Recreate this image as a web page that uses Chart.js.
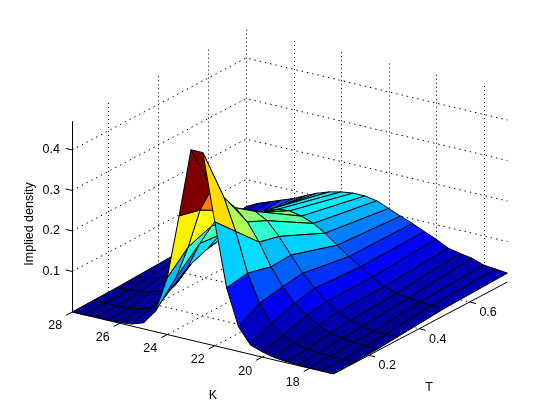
<!DOCTYPE html>
<html>
<head>
<meta charset="utf-8">
<title>Implied density</title>
<style>
    html, body { margin: 0; padding: 0; background: #fff; }
    canvas { display: block; }
</style>
<script src="https://cdn.jsdelivr.net/npm/chart.js@4"></script>
</head>
<body>
<canvas id="chart" width="560" height="420"></canvas>
<script>
const strikes = [17, 17.5, 18, 18.5, 19, 19.5, 20, 20.5, 21, 21.5, 22, 22.5, 23, 23.5, 24, 24.5, 25, 25.5, 26, 26.5, 27, 27.5, 28];
const maturities = [0.06, 0.143, 0.236, 0.315, 0.498, 0.75];

// density, one list per maturity, same order as strikes
const densityT1 = [0.001, 0.001, 0.001, 0.002, 0.003, 0.006, 0.013, 0.023, 0.061, 0.15, 0.306, 0.47, 0.47, 0.3, 0.14, 0.05, 0.015, 0.005, 0.002, 0.001, 0.001, 0, 0];
const densityT2 = [0.002, 0.002, 0.003, 0.004, 0.006, 0.014, 0.027, 0.049, 0.092, 0.159, 0.255, 0.333, 0.348, 0.287, 0.189, 0.108, 0.05, 0.02, 0.008, 0.003, 0.001, 0.001, 0.001];
const densityT3 = [0.004, 0.005, 0.006, 0.009, 0.0155, 0.028, 0.046, 0.068, 0.102, 0.144, 0.198, 0.241, 0.269, 0.255, 0.21, 0.16, 0.095, 0.045, 0.025, 0.012, 0.006, 0.003, 0.002];
const densityT4 = [0.008, 0.007, 0.008, 0.012, 0.02, 0.035, 0.053, 0.079, 0.109, 0.147, 0.186, 0.218, 0.234, 0.225, 0.2, 0.155, 0.115, 0.085, 0.055, 0.03, 0.015, 0.008, 0.004];
const densityT5 = [0.017, 0.018, 0.02, 0.022, 0.027, 0.037, 0.054, 0.072, 0.09, 0.111, 0.134, 0.151, 0.162, 0.168, 0.165, 0.155, 0.135, 0.11, 0.09, 0.06, 0.04, 0.02, 0.008];
const densityT6 = [0.022, 0.025, 0.028, 0.038, 0.043, 0.049, 0.064, 0.076, 0.089, 0.1, 0.112, 0.124, 0.129, 0.129, 0.125, 0.118, 0.108, 0.095, 0.081, 0.07, 0.059, 0.048, 0.033];
const density = [densityT1, densityT2, densityT3, densityT4, densityT5, densityT6];

const strikeTicks = [18, 20, 22, 24, 26, 28];
const maturityTicks = [0.2, 0.4, 0.6];
const densityTicks = [0.1, 0.2, 0.3, 0.4];

const kMin = 17, kMax = 28, tMin = 0.06, tMax = 0.75, zMax = 0.47;

// fixed MATLAB style view, orthographic
function project(k, t, z) {
    return {
        x: 333.5 - (k - kMin) * 23.75 + (t - tMin) * 252,
        y: 374 - (k - kMin) * 5.64 - (t - tMin) * 133.3 - z * 405
    };
}

// same as project but on a pixel column, keeps the vertical dotted lines crisp
function snapped(k, t, z) {
    const p = project(k, t, z);
    return { x: Math.round(p.x) + 0.5, y: p.y };
}

// jet(64) lookup
function jet(v) {
    const t = (Math.min(Math.floor(v / zMax * 64), 63) + 1) / 64;
    const c = n => Math.round(255 * Math.max(0, Math.min(1, n)));
    const r = c(Math.min(4 * t - 1.5, -4 * t + 4.5));
    const g = c(Math.min(4 * t - 0.5, -4 * t + 3.5));
    const b = c(Math.min(4 * t + 0.5, -4 * t + 2.5));
    return `rgb(${r},${g},${b})`;
}

function lineSet(points, dash) {
    return {
        data: points,
        showLine: true,
        borderColor: '#000',
        borderWidth: 1,
        borderDash: dash,
        pointRadius: 0,
        fill: false,
        clip: false
    };
}

// built back to front, reversed at the end since Chart.js paints index 0 last
const layers = [];
const flatDots = [1.4, 4];
const upDots = [1, 3];

densityTicks.forEach(z => {
    layers.push(lineSet([project(kMax, tMin, z), project(kMax, tMax, z), project(kMin, tMax, z)], flatDots));
});
maturityTicks.forEach(t => {
    layers.push(lineSet([snapped(kMax, t, zMax), snapped(kMax, t, 0)], upDots));
    layers.push(lineSet([project(kMax, t, 0), project(kMin, t, 0)], flatDots));
});
strikeTicks.forEach(k => {
    layers.push(lineSet([snapped(k, tMax, zMax), snapped(k, tMax, 0)], upDots));
    layers.push(lineSet([project(k, tMax, 0), project(k, tMin, 0)], flatDots));
});

// solid axes and tick marks
layers.push(lineSet([snapped(kMax, tMin, zMax), snapped(kMax, tMin, 0)], []));
layers.push(lineSet([project(kMax, tMin, 0), project(kMin, tMin, 0), project(kMin, tMax, 0)], []));
strikeTicks.forEach(k => layers.push(lineSet([project(k, tMin, 0), project(k, tMin - 0.024, 0)], [])));
maturityTicks.forEach(t => layers.push(lineSet([project(kMin, t, 0), project(kMin - 0.27, t, 0)], [])));
densityTicks.forEach(z => layers.push(lineSet([project(kMax, tMin, z), project(kMax + 0.27, tMin, z)], [])));

// surface faces, far corner first; a face takes its colour from its low K, low T corner
for (let i = strikes.length - 2; i >= 0; i--) {
    for (let j = maturities.length - 2; j >= 0; j--) {
        const corners = [
            project(strikes[i], maturities[j], density[j][i]),
            project(strikes[i + 1], maturities[j], density[j][i + 1]),
            project(strikes[i + 1], maturities[j + 1], density[j + 1][i + 1]),
            project(strikes[i], maturities[j + 1], density[j + 1][i]),
            project(strikes[i], maturities[j], density[j][i])
        ];
        layers.push({
            data: corners,
            showLine: true,
            borderColor: '#000',
            borderWidth: 1,
            backgroundColor: jet(density[j][i]),
            pointRadius: 0,
            fill: 'shape',
            clip: false
        });
    }
}

// tick labels and axis titles
const axisText = {
    id: 'axisText',
    afterDatasetsDraw(chart) {
        const { ctx, scales } = chart;
        const put = (text, px, py, angle) => {
            ctx.save();
            ctx.translate(scales.x.getPixelForValue(px), scales.y.getPixelForValue(py));
            if (angle) ctx.rotate(angle);
            ctx.fillText(text, 0, 0);
            ctx.restore();
        };
        ctx.save();
        ctx.font = '12.5px "Liberation Sans"';
        ctx.fillStyle = '#000';
        ctx.textAlign = 'center';
        ctx.textBaseline = 'middle';
        strikeTicks.forEach(k => {
            const p = project(k, tMin, 0);
            put(String(k), p.x - 17, p.y + 14);
        });
        maturityTicks.forEach(t => {
            const p = project(kMin, t, 0);
            put(t.toFixed(1), p.x + 18.5, p.y + 10.5);
        });
        densityTicks.forEach(z => {
            const p = project(kMax, tMin, z);
            put(z.toFixed(1), p.x - 21, p.y);
        });
        put('K', 213, 396);
        put('T', 429, 388);
        put('Implied density', 30, 224, -Math.PI / 2);
        ctx.restore();
    }
};

new Chart(document.getElementById('chart'), {
    type: 'scatter',
    data: { datasets: layers.reverse() },
    options: {
        responsive: false,
        animation: false,
        layout: { padding: 0 },
        elements: { line: { tension: 0 } },
        plugins: { legend: { display: false }, tooltip: { enabled: false } },
        scales: {
            x: { type: 'linear', display: false, min: 0, max: 560 },
            y: { type: 'linear', display: false, min: 0, max: 420, reverse: true }
        }
    },
    plugins: [axisText]
});
</script>
</body>
</html>
